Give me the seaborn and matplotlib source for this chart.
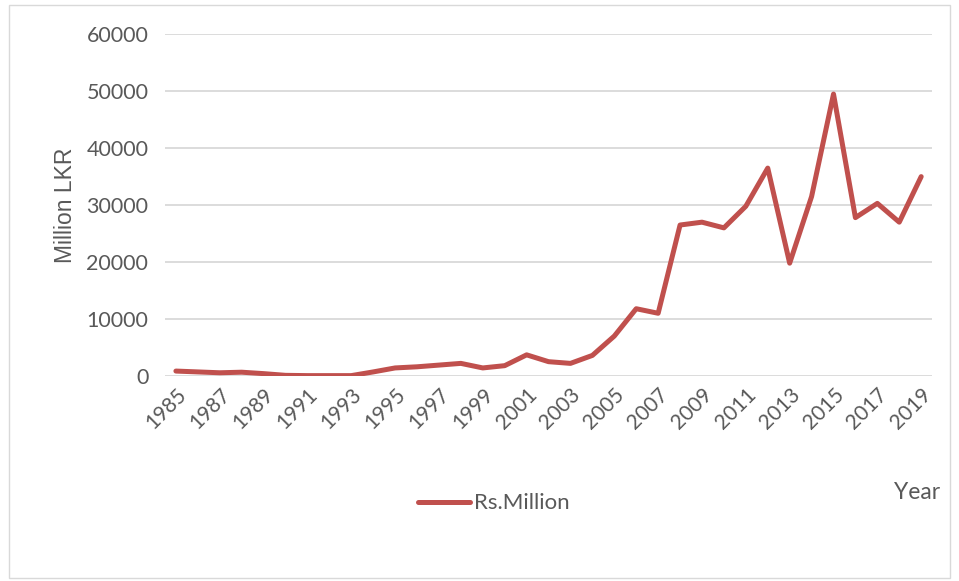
import matplotlib
matplotlib.use("Agg")
import matplotlib.pyplot as plt
import seaborn as sns
import pandas as pd
from matplotlib.patches import Rectangle

years = [str(y) for y in range(1985, 2020)]
values = [850, 700, 550, 650, 400, 100, 50, 50, 50, 700,
          1400, 1600, 1900, 2200, 1400, 1800, 3700, 2500, 2200, 3600,
          7000, 11800, 11000, 26500, 27000, 26000, 29800, 36500, 19800, 31500,
          49500, 27800, 30300, 27000, 35000]
series_name = "Rs.Million"
y_ticks = [0, 10000, 20000, 30000, 40000, 50000, 60000]

df = pd.DataFrame({"Year": years, "Value": values, "Series": series_name})

sns.set_theme(style="white")
plt.rcParams['font.family'] = ['Lato', 'DejaVu Sans']

fig = plt.figure(figsize=(9.59, 5.81), dpi=100)
ax = fig.add_axes([0.172, 0.353, 0.8, 0.588])

sns.lineplot(data=df, x="Year", y="Value", hue="Series", palette=["#C0504D"],
             linewidth=3.6, ax=ax, sort=False, legend=False)

ax.set_xlim(-0.5, len(years) - 0.5)
ax.set_ylim(0, 60000)
ax.set_yticks(y_ticks)
ax.set_yticklabels([str(t) for t in y_ticks], fontsize=15.5, color="#595959")
ax.set_xticks(range(0, len(years), 2))
ax.set_xticklabels(years[::2], rotation=45, ha="right", rotation_mode="anchor",
                   fontsize=15, color="#595959")
ax.tick_params(axis="y", length=0, pad=12)
ax.tick_params(axis="x", length=0, pad=6)
ax.yaxis.grid(True, color="#D9D9D9", linewidth=1.3)
ax.set_axisbelow(True)
for s in ax.spines.values():
    s.set_visible(False)

ax.set_xlabel("")
ax.set_ylabel("Million LKR", fontsize=16.5, color="#595959",
              family=["Liberation Sans", "DejaVu Sans"], labelpad=7)

fig.text(0.98, 0.152, "Year", fontsize=16.5, color="#595959", ha="right", va="center")

# legend
fig.add_artist(plt.Line2D([0.436, 0.49], [0.136, 0.136], color="#C0504D",
                          linewidth=3.6, transform=fig.transFigure))
fig.text(0.494, 0.134, series_name, fontsize=16, color="#595959", ha="left", va="center")

fig.add_artist(Rectangle((0.009, 0.005), 0.982, 0.986, transform=fig.transFigure,
                         fill=False, edgecolor="#D9D9D9", linewidth=1))

fig.savefig("out.png", dpi=100)
